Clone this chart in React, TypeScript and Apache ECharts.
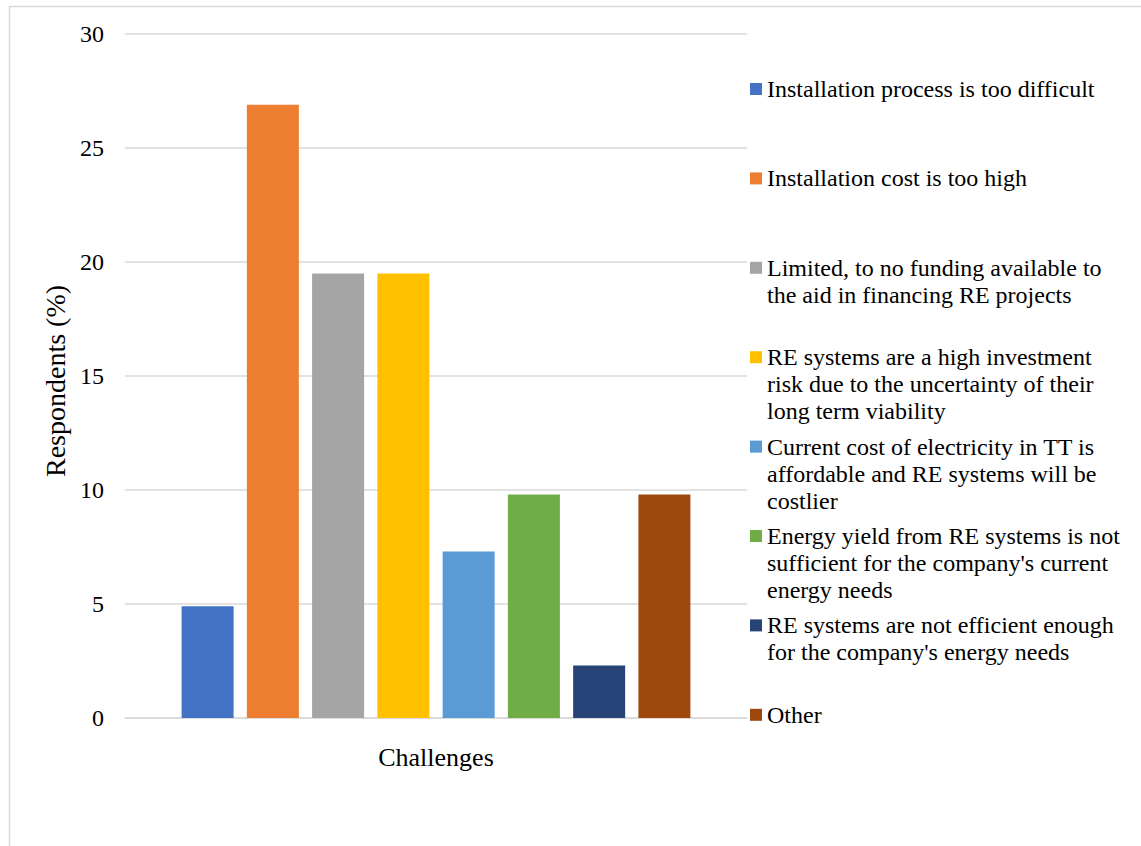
import React, { useEffect, useRef } from "react";
import * as echarts from "echarts";

const categories = ["Challenges"];
const seriesNames = [
  "Installation process is too difficult",
  "Installation cost is too high",
  "Limited, to no funding available to the aid in financing RE projects",
  "RE systems are a high investment risk due to the uncertainty of their long term viability",
  "Current cost of electricity in TT is affordable and RE systems will be costlier",
  "Energy yield from RE systems is not sufficient for the company's current energy needs",
  "RE systems are not efficient enough for the company's energy needs",
  "Other",
];
const legendLines = [
  ["Installation process is too difficult"],
  ["Installation cost is too high"],
  ["Limited, to no funding available to", "the aid in financing RE projects"],
  ["RE systems are a high investment", "risk due to the uncertainty of their", "long term viability"],
  ["Current cost of electricity in TT is", "affordable and RE systems will be", "costlier"],
  ["Energy yield from RE systems is not", "sufficient for the company's current", "energy needs"],
  ["RE systems are not efficient enough", "for the company's energy needs"],
  ["Other"],
];
const values = [4.9, 26.9, 19.5, 19.5, 7.3, 9.8, 2.3, 9.8];
const colors = ["#4472C4", "#ED7D31", "#A5A5A5", "#FFC000", "#5B9BD5", "#70AD47", "#264478", "#9E480E"];
const yAxisName = "Respondents (%)";
const yMin = 0;
const yMax = 30;
const yInterval = 5;

export default function App() {
  const ref = useRef<HTMLDivElement>(null);
  useEffect(() => {
    const chart = echarts.init(ref.current!, null, { renderer: "svg" });
    const font = "'Liberation Serif', 'Times New Roman', serif";
    const LH = 27;
    const legendStart = 89;
    const legendPitch = 89.4;
    const legends = seriesNames.map((name, i) => {
      const lines = legendLines[i];
      const n = lines.length;
      const firstCenter = legendStart + i * legendPitch;
      return {
        show: true,
        orient: "vertical",
        left: 750,
        top: firstCenter - ((2 * n - 1) * LH) / 2,
        padding: 0,
        itemWidth: 12,
        itemHeight: 12,
        selectedMode: false,
        data: [{ name, icon: "rect" }],
        formatter: () => lines.map((l) => `{t|${l}}`).join("\n"),
        textStyle: {
          fontFamily: font,
          fontSize: 24,
          lineHeight: LH,
          color: "#000",
          padding: [(n - 1) * LH, 0, 0, 0],
          rich: {
            t: { fontFamily: font, fontSize: 24, lineHeight: LH, color: "#000" },
          },
        },
      };
    });
    chart.setOption({
      animation: false,
      backgroundColor: "#fff",
      graphic: [
        {
          type: "rect",
          silent: true,
          z: -10,
          shape: { x: 9.5, y: 6.5, width: 1300, height: 1000 },
          style: { fill: "none", stroke: "#d9d9d9", lineWidth: 1.5 },
        },
      ],
      legend: legends,
      grid: { left: 125, right: 394, top: 34, bottom: 128, containLabel: false },
      xAxis: {
        type: "category",
        data: categories,
        axisLine: { show: true, lineStyle: { color: "#d9d9d9", width: 1.5 } },
        axisTick: { show: false },
        axisLabel: { fontFamily: font, fontSize: 26, color: "#000", margin: 26 },
      },
      yAxis: {
        type: "value",
        min: yMin,
        max: yMax,
        interval: yInterval,
        name: yAxisName,
        nameLocation: "middle",
        nameGap: 53,
        nameRotate: 90,
        nameTextStyle: { fontFamily: font, fontSize: 28, color: "#000", padding: [0, 10, 0, 0] },
        axisLine: { show: false },
        axisTick: { show: false },
        axisLabel: { fontFamily: font, fontSize: 24, color: "#000", margin: 21 },
        splitLine: { show: true, lineStyle: { color: "#d9d9d9", width: 1.5 } },
      },
      series: seriesNames.map((name, i) => ({
        type: "bar",
        name,
        data: [values[i]],
        barWidth: 52,
        barGap: "25.5%",
        itemStyle: { color: colors[i] },
      })),
    });
    return () => chart.dispose();
  }, []);
  return (
    <div
      ref={ref}
      style={{ position: "fixed", left: 0, top: 0, width: 1141, height: 846, background: "#fff" }}
    />
  );
}
